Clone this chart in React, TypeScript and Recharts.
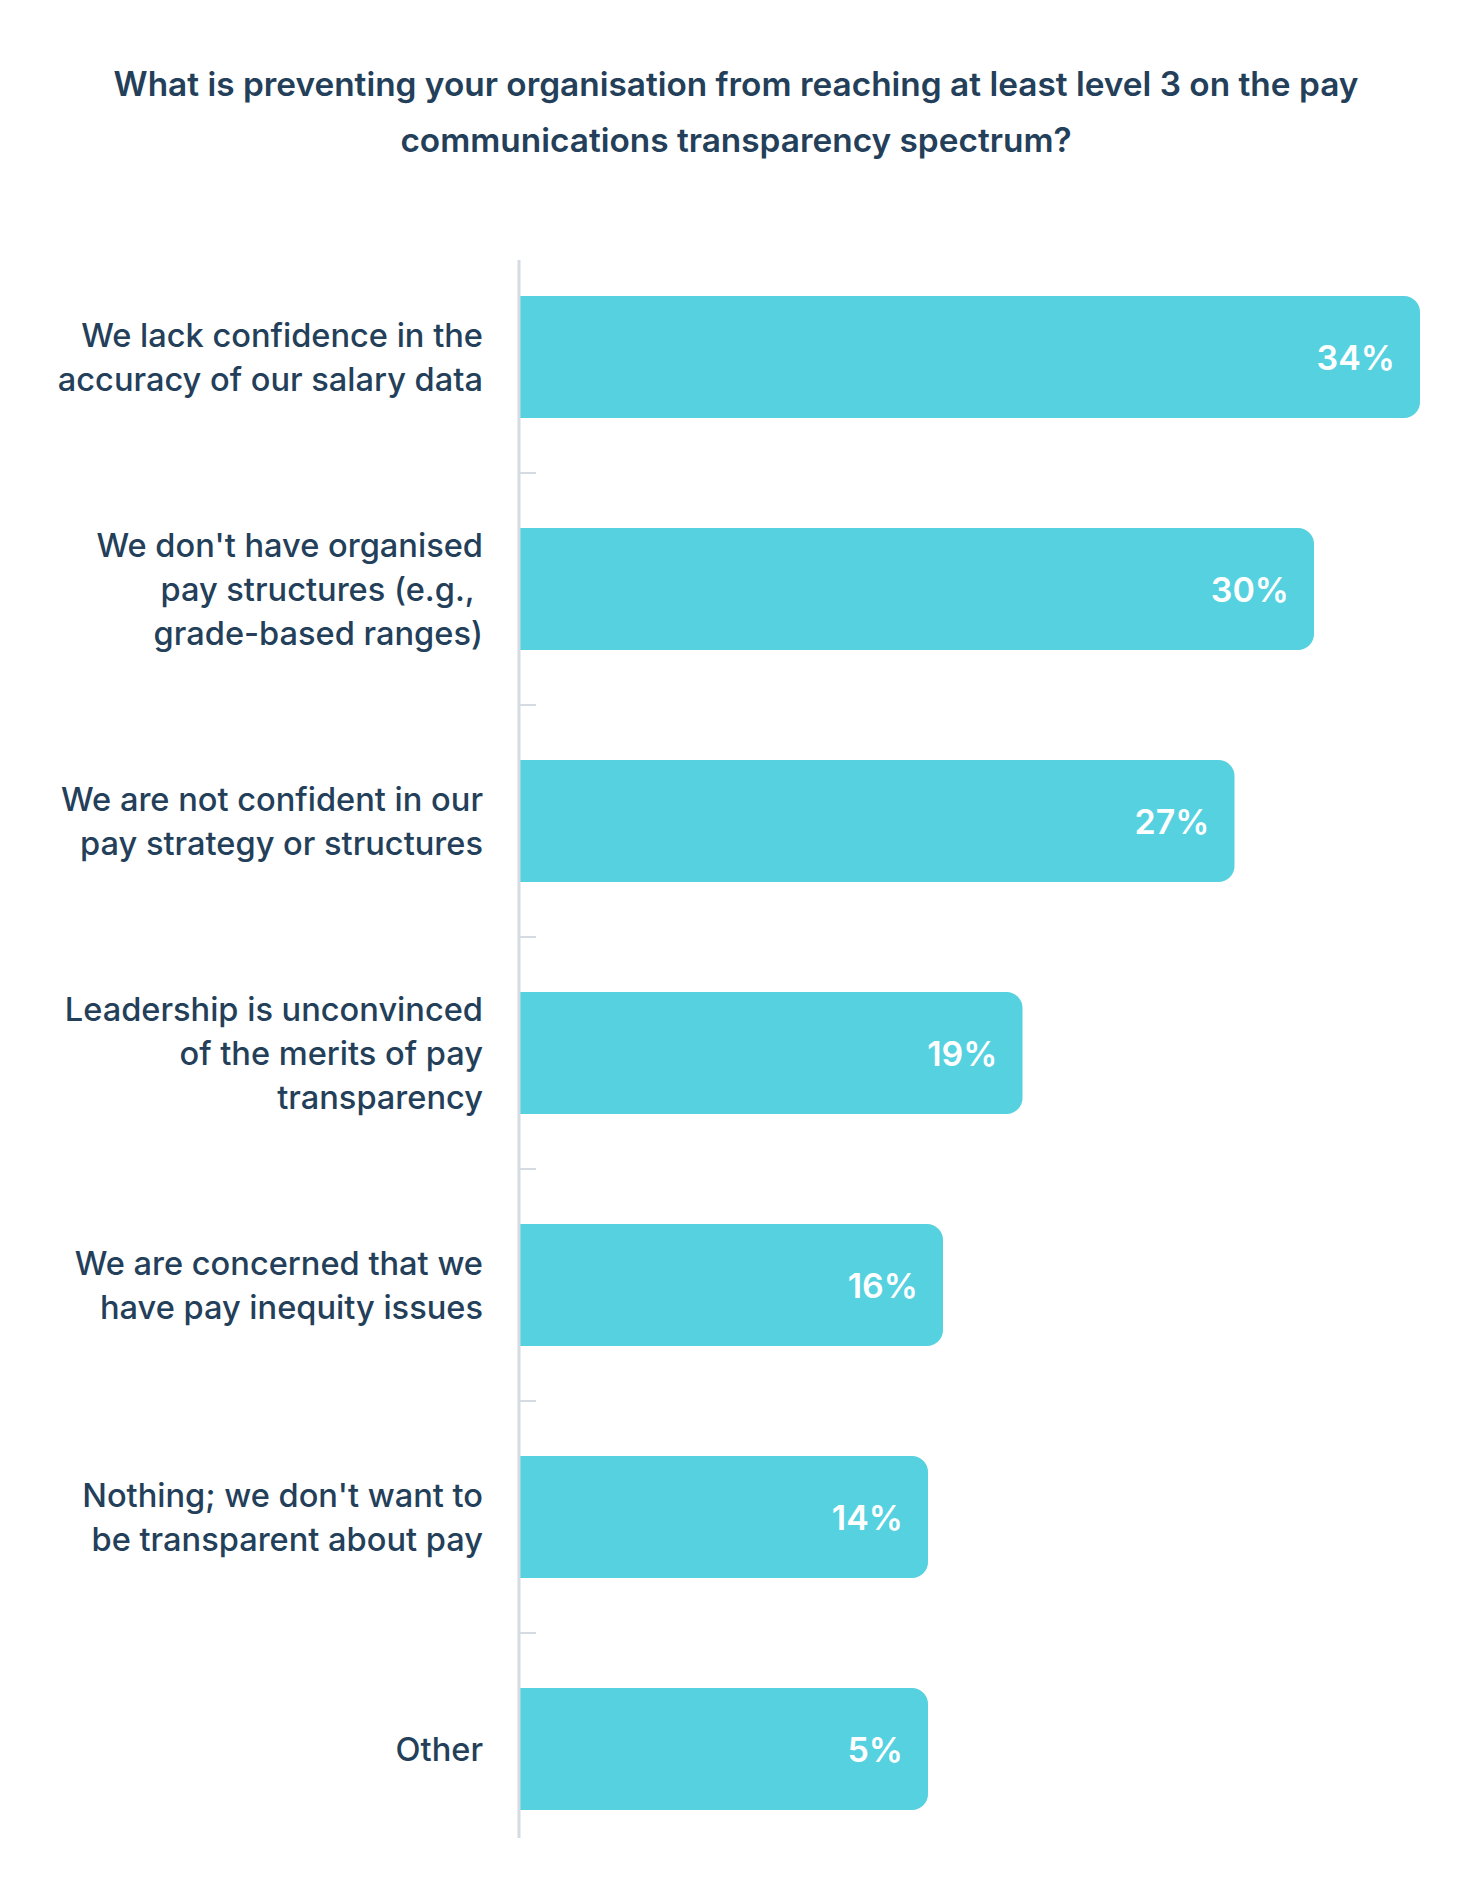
import { BarChart, Bar, XAxis, YAxis, LabelList, ReferenceLine } from 'recharts'

const categories = [
  'We lack confidence in the\naccuracy of our salary data',
  "We don't have organised\npay structures (e.g., \ngrade-based ranges)",
  'We are not confident in our\npay strategy or structures',
  'Leadership is unconvinced\nof the merits of pay\ntransparency',
  'We are concerned that we\nhave pay inequity issues',
  "Nothing; we don't want to\nbe transparent about pay",
  'Other',
]
const shares = [34, 30, 27, 19, 16, 14, 5]

const title = [
  'What is preventing your organisation from reaching at least level 3 on the pay',
  'communications transparency spectrum?',
]

const data = categories.map((label, i) => ({ label, value: shares[i] }))

const TEXT = '#243f5a'
const BAR = '#55d1df'
const AXIS = '#d6dbe1'
const FONT = 'Inter, "Noto Sans", sans-serif'

const W = 1457
const H = 1888
const TOP = 241
const BOTTOM = 23
const STEP = (H - TOP - BOTTOM) / categories.length
const MARGIN = 36

function CategoryTick(props: any) {
  const { x, y, payload, index } = props
  const lines = String(payload.value).split('\n')
  const lh = 44
  const first = y - ((lines.length - 1) * lh) / 2
  return (
    <g>
      <text
        x={x}
        y={first}
        textAnchor="end"
        dominantBaseline="central"
        fill={TEXT}
        fontSize={32.6}
        fontWeight={500}
        fontFamily={FONT}
      >
        {lines.map((l, i) => (
          <tspan key={i} x={x} y={first + i * lh} dominantBaseline="central">
            {l}
          </tspan>
        ))}
      </text>
      {index < categories.length - 1 && (
        <line
          x1={x + MARGIN + 1}
          x2={x + MARGIN + 17}
          y1={y + STEP / 2}
          y2={y + STEP / 2}
          stroke={AXIS}
          strokeWidth={2}
        />
      )}
    </g>
  )
}

function ValueLabel(props: any) {
  const { x, y, width, height, value } = props
  return (
    <text
      x={x + width - 25}
      y={y + height / 2}
      textAnchor="end"
      dominantBaseline="central"
      fill="#ffffff"
      fontSize={34}
      fontWeight={600}
      fontFamily={FONT}
    >
      {value}%
    </text>
  )
}

function AxisLine(props: any) {
  const { x1, x2, y1, y2 } = props
  const top = Math.min(y1, y2)
  const bottom = Math.max(y1, y2)
  return <line x1={x1} x2={x2} y1={top + 19} y2={bottom - 27} stroke={AXIS} strokeWidth={3} />
}

export default function App() {
  return (
    <div style={{ position: 'absolute', left: 0, top: 0, width: W, height: H, background: '#fff', fontFamily: FONT }}>
      <div
        style={{
          position: 'absolute',
          top: 56,
          left: 0,
          width: 1472,
          textAlign: 'center',
          fontSize: 33.4,
          lineHeight: '56px',
          fontWeight: 600,
          color: TEXT,
        }}
      >
        {title.map((t, i) => (
          <div key={i}>{t}</div>
        ))}
      </div>
      <div style={{ position: 'absolute', left: 0, top: 0 }}>
        <BarChart
          width={W}
          height={H}
          data={data}
          layout="vertical"
          margin={{ top: TOP, right: 37, bottom: BOTTOM, left: 39 }}
        >
          <XAxis type="number" domain={[0, 34]} hide />
          <YAxis
            type="category"
            dataKey="label"
            width={480}
            axisLine={false}
            tickLine={false}
            tickSize={0}
            tickMargin={MARGIN}
            tick={<CategoryTick />}
            interval={0}
          />
          <ReferenceLine x={0} shape={<AxisLine />} />
          <Bar
            dataKey="value"
            fill={BAR}
            barSize={122}
            minPointSize={409}
            radius={[0, 16, 16, 0]}
            isAnimationActive={false}
          >
            <LabelList dataKey="value" content={<ValueLabel />} />
          </Bar>
        </BarChart>
      </div>
    </div>
  )
}
